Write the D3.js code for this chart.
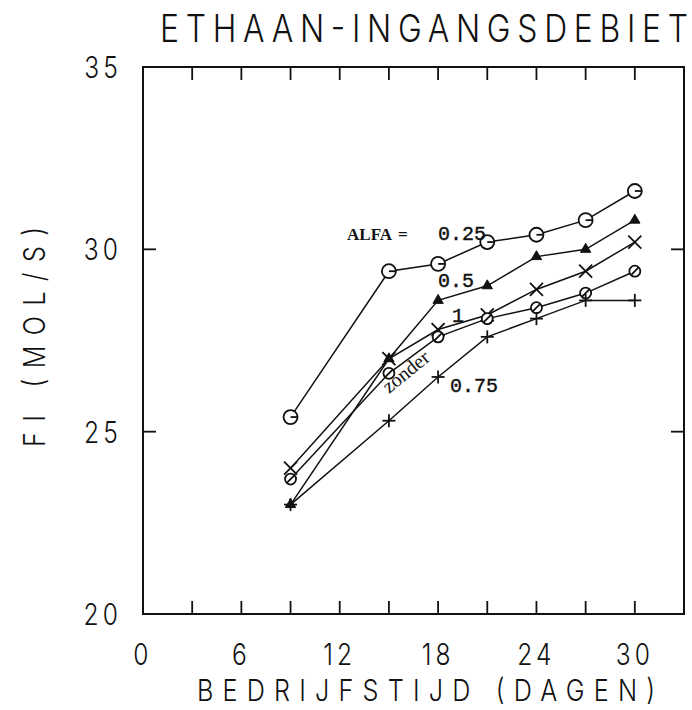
<!DOCTYPE html>
<html>
<head>
<meta charset="utf-8">
<script src="https://cdn.jsdelivr.net/npm/d3@7"></script>
<style>
  html, body { margin: 0; padding: 0; background: #fff; }
  svg { display: block; }
</style>
</head>
<body>
<svg id="chart" width="692" height="710"></svg>
<script>
// Operating time (days) at which each run was sampled
const days = [9, 15, 18, 21, 24, 27, 30];

// Ethane inlet flow FI (mol/s) per ALFA setting
const alfa025 = [25.4, 29.4, 29.6, 30.2, 30.4, 30.8, 31.6];
const alfa05  = [23.0, 27.0, 28.6, 29.0, 29.8, 30.0, 30.8];
const alfa1   = [24.0, 27.0, 27.8, 28.2, 28.9, 29.4, 30.2];
const zonder  = [23.7, 26.6, 27.6, 28.1, 28.4, 28.8, 29.4];
const alfa075 = [23.0, 25.3, 26.5, 27.6, 28.1, 28.6, 28.6];

const xTickLabels = [0, 6, 12, 18, 24, 30];
const yTickLabels = [20, 25, 30, 35];
const xMinorTicks = [3, 6, 9, 12, 15, 18, 21, 24, 27, 30];
const yInnerTicks = [25, 30];

const svg = d3.select("#chart");
const plotLeft = 143, plotRight = 684, plotTop = 67, plotBottom = 614;

const x = d3.scaleLinear().domain([0, 33]).range([plotLeft, plotRight]);
const y = d3.scaleLinear().domain([20, 35]).range([plotBottom, plotTop]);

const plotFont = "Inter, 'DejaVu Sans', sans-serif";
const plotWeight = 300;
const ink = "#111";

// Title (thin, widely spaced plotter-style lettering)
svg.append("g").attr("transform", "translate(160,42) scale(0.84,1)")
  .append("text")
  .attr("font-family", plotFont).attr("font-weight", plotWeight)
  .attr("font-size", 38)
  .attr("textLength", 528 / 0.84).attr("lengthAdjust", "spacing")
  .attr("fill", ink)
  .text("ETHAAN-INGANGSDEBIET");

// Frame
svg.append("rect")
  .attr("x", plotLeft).attr("y", plotTop)
  .attr("width", plotRight - plotLeft).attr("height", plotBottom - plotTop)
  .attr("fill", "none").attr("stroke", ink).attr("stroke-width", 2);

// Inward ticks on all four sides
const tickLen = 13;
const frame = svg.append("g").attr("stroke", ink).attr("stroke-width", 1.8);
xMinorTicks.forEach(d => {
  frame.append("line").attr("x1", x(d)).attr("x2", x(d)).attr("y1", plotBottom).attr("y2", plotBottom - tickLen);
  frame.append("line").attr("x1", x(d)).attr("x2", x(d)).attr("y1", plotTop).attr("y2", plotTop + tickLen);
});
yInnerTicks.forEach(d => {
  frame.append("line").attr("x1", plotLeft).attr("x2", plotLeft + tickLen).attr("y1", y(d)).attr("y2", y(d));
  frame.append("line").attr("x1", plotRight).attr("x2", plotRight - tickLen).attr("y1", y(d)).attr("y2", y(d));
});

// Tick labels
svg.append("g").selectAll("g").data(xTickLabels).join("g")
  .attr("transform", d => `translate(${x(d)},665) scale(0.82,1)`)
  .append("text")
  .attr("text-anchor", "middle")
  .attr("font-family", plotFont).attr("font-weight", plotWeight).attr("font-size", 30)
  .attr("letter-spacing", 5)
  .attr("fill", ink)
  .text(d => d);

svg.append("g").selectAll("g").data(yTickLabels).join("g")
  .attr("transform", d => `translate(122,${y(d) + 11}) scale(0.82,1)`)
  .append("text")
  .attr("text-anchor", "end")
  .attr("font-family", plotFont).attr("font-weight", plotWeight).attr("font-size", 30)
  .attr("letter-spacing", 5)
  .attr("fill", ink)
  .text(d => d);

// Axis titles
svg.append("g").attr("transform", "translate(197,701) scale(0.84,1)")
  .append("text")
  .attr("font-family", plotFont).attr("font-weight", plotWeight).attr("font-size", 30)
  .attr("textLength", 458 / 0.84).attr("lengthAdjust", "spacing")
  .attr("fill", ink)
  .text("BEDRIJFSTIJD (DAGEN)");

svg.append("g").attr("transform", "translate(45,447) rotate(-90) scale(0.84,1)")
  .append("text")
  .attr("font-family", plotFont).attr("font-weight", plotWeight).attr("font-size", 30)
  .attr("textLength", 220 / 0.84).attr("lengthAdjust", "spacing")
  .attr("fill", ink)
  .text("FI  (MOL/S)");

// Series lines
const line = d3.line().x((d, i) => x(days[i])).y(d => y(d));
const series = [
  { values: alfa025, marker: "circle" },
  { values: alfa05,  marker: "triangle" },
  { values: alfa1,   marker: "cross" },
  { values: zonder,  marker: "slashcircle" },
  { values: alfa075, marker: "plus" }
];

const lines = svg.append("g").attr("fill", "none").attr("stroke", ink).attr("stroke-width", 1.5);
series.forEach(s => lines.append("path").attr("d", line(s.values)));

// Markers
const marks = svg.append("g").attr("stroke", ink).attr("stroke-width", 1.8);
series.forEach(s => {
  s.values.forEach((v, i) => {
    const cx = x(days[i]), cy = y(v);
    const g = marks.append("g").attr("transform", `translate(${cx},${cy})`);
    if (s.marker === "circle") {
      g.append("circle").attr("r", 7).attr("fill", "#fff");
      g.append("line").attr("x1", 0).attr("y1", 0).attr("x2", 6.5).attr("y2", 0);
    } else if (s.marker === "triangle") {
      g.append("path").attr("d", d3.symbol(d3.symbolTriangle, 46)()).attr("fill", ink).attr("stroke-width", 1);
    } else if (s.marker === "cross") {
      g.append("line").attr("x1", -6.5).attr("y1", -6.5).attr("x2", 6.5).attr("y2", 6.5);
      g.append("line").attr("x1", -6.5).attr("y1", 6.5).attr("x2", 6.5).attr("y2", -6.5);
    } else if (s.marker === "slashcircle") {
      g.append("circle").attr("r", 5.5).attr("fill", "#fff");
      g.append("line").attr("x1", -3.8).attr("y1", 3.8).attr("x2", 3.8).attr("y2", -3.8);
    } else if (s.marker === "plus") {
      g.append("line").attr("x1", -6.5).attr("y1", 0).attr("x2", 6.5).attr("y2", 0);
      g.append("line").attr("x1", 0).attr("y1", -6.5).attr("x2", 0).attr("y2", 6.5);
    }
  });
});

// Curve annotations
const serif = "'Liberation Serif', 'DejaVu Serif', serif";
const mono = "'Liberation Mono', 'DejaVu Sans Mono', monospace";

svg.append("text")
  .attr("x", x(12.45)).attr("y", y(30.26))
  .attr("font-family", serif).attr("font-weight", "bold").attr("font-size", 17)
  .attr("fill", ink).text("ALFA");
svg.append("text")
  .attr("x", x(15.55)).attr("y", y(30.26))
  .attr("font-family", serif).attr("font-weight", "bold").attr("font-size", 17)
  .attr("fill", ink).text("=");

const numLabels = [
  { text: "0.25", dx: 18.0, dy: 30.26 },
  { text: "0.5",  dx: 18.0, dy: 28.97 },
  { text: "1",    dx: 18.85, dy: 28.0 },
  { text: "0.75", dx: 18.73, dy: 26.09 }
];
svg.append("g").selectAll("text").data(numLabels).join("text")
  .attr("x", d => x(d.dx)).attr("y", d => y(d.dy))
  .attr("font-family", mono).attr("font-size", 20)
  .attr("stroke", ink).attr("stroke-width", 0.4)
  .attr("fill", ink).text(d => d.text);

svg.append("text")
  .attr("transform", `translate(${x(15.0)},${y(26.03)}) rotate(-39)`)
  .attr("font-family", serif).attr("font-size", 20)
  .attr("fill", ink).text("zonder");
</script>
</body>
</html>
